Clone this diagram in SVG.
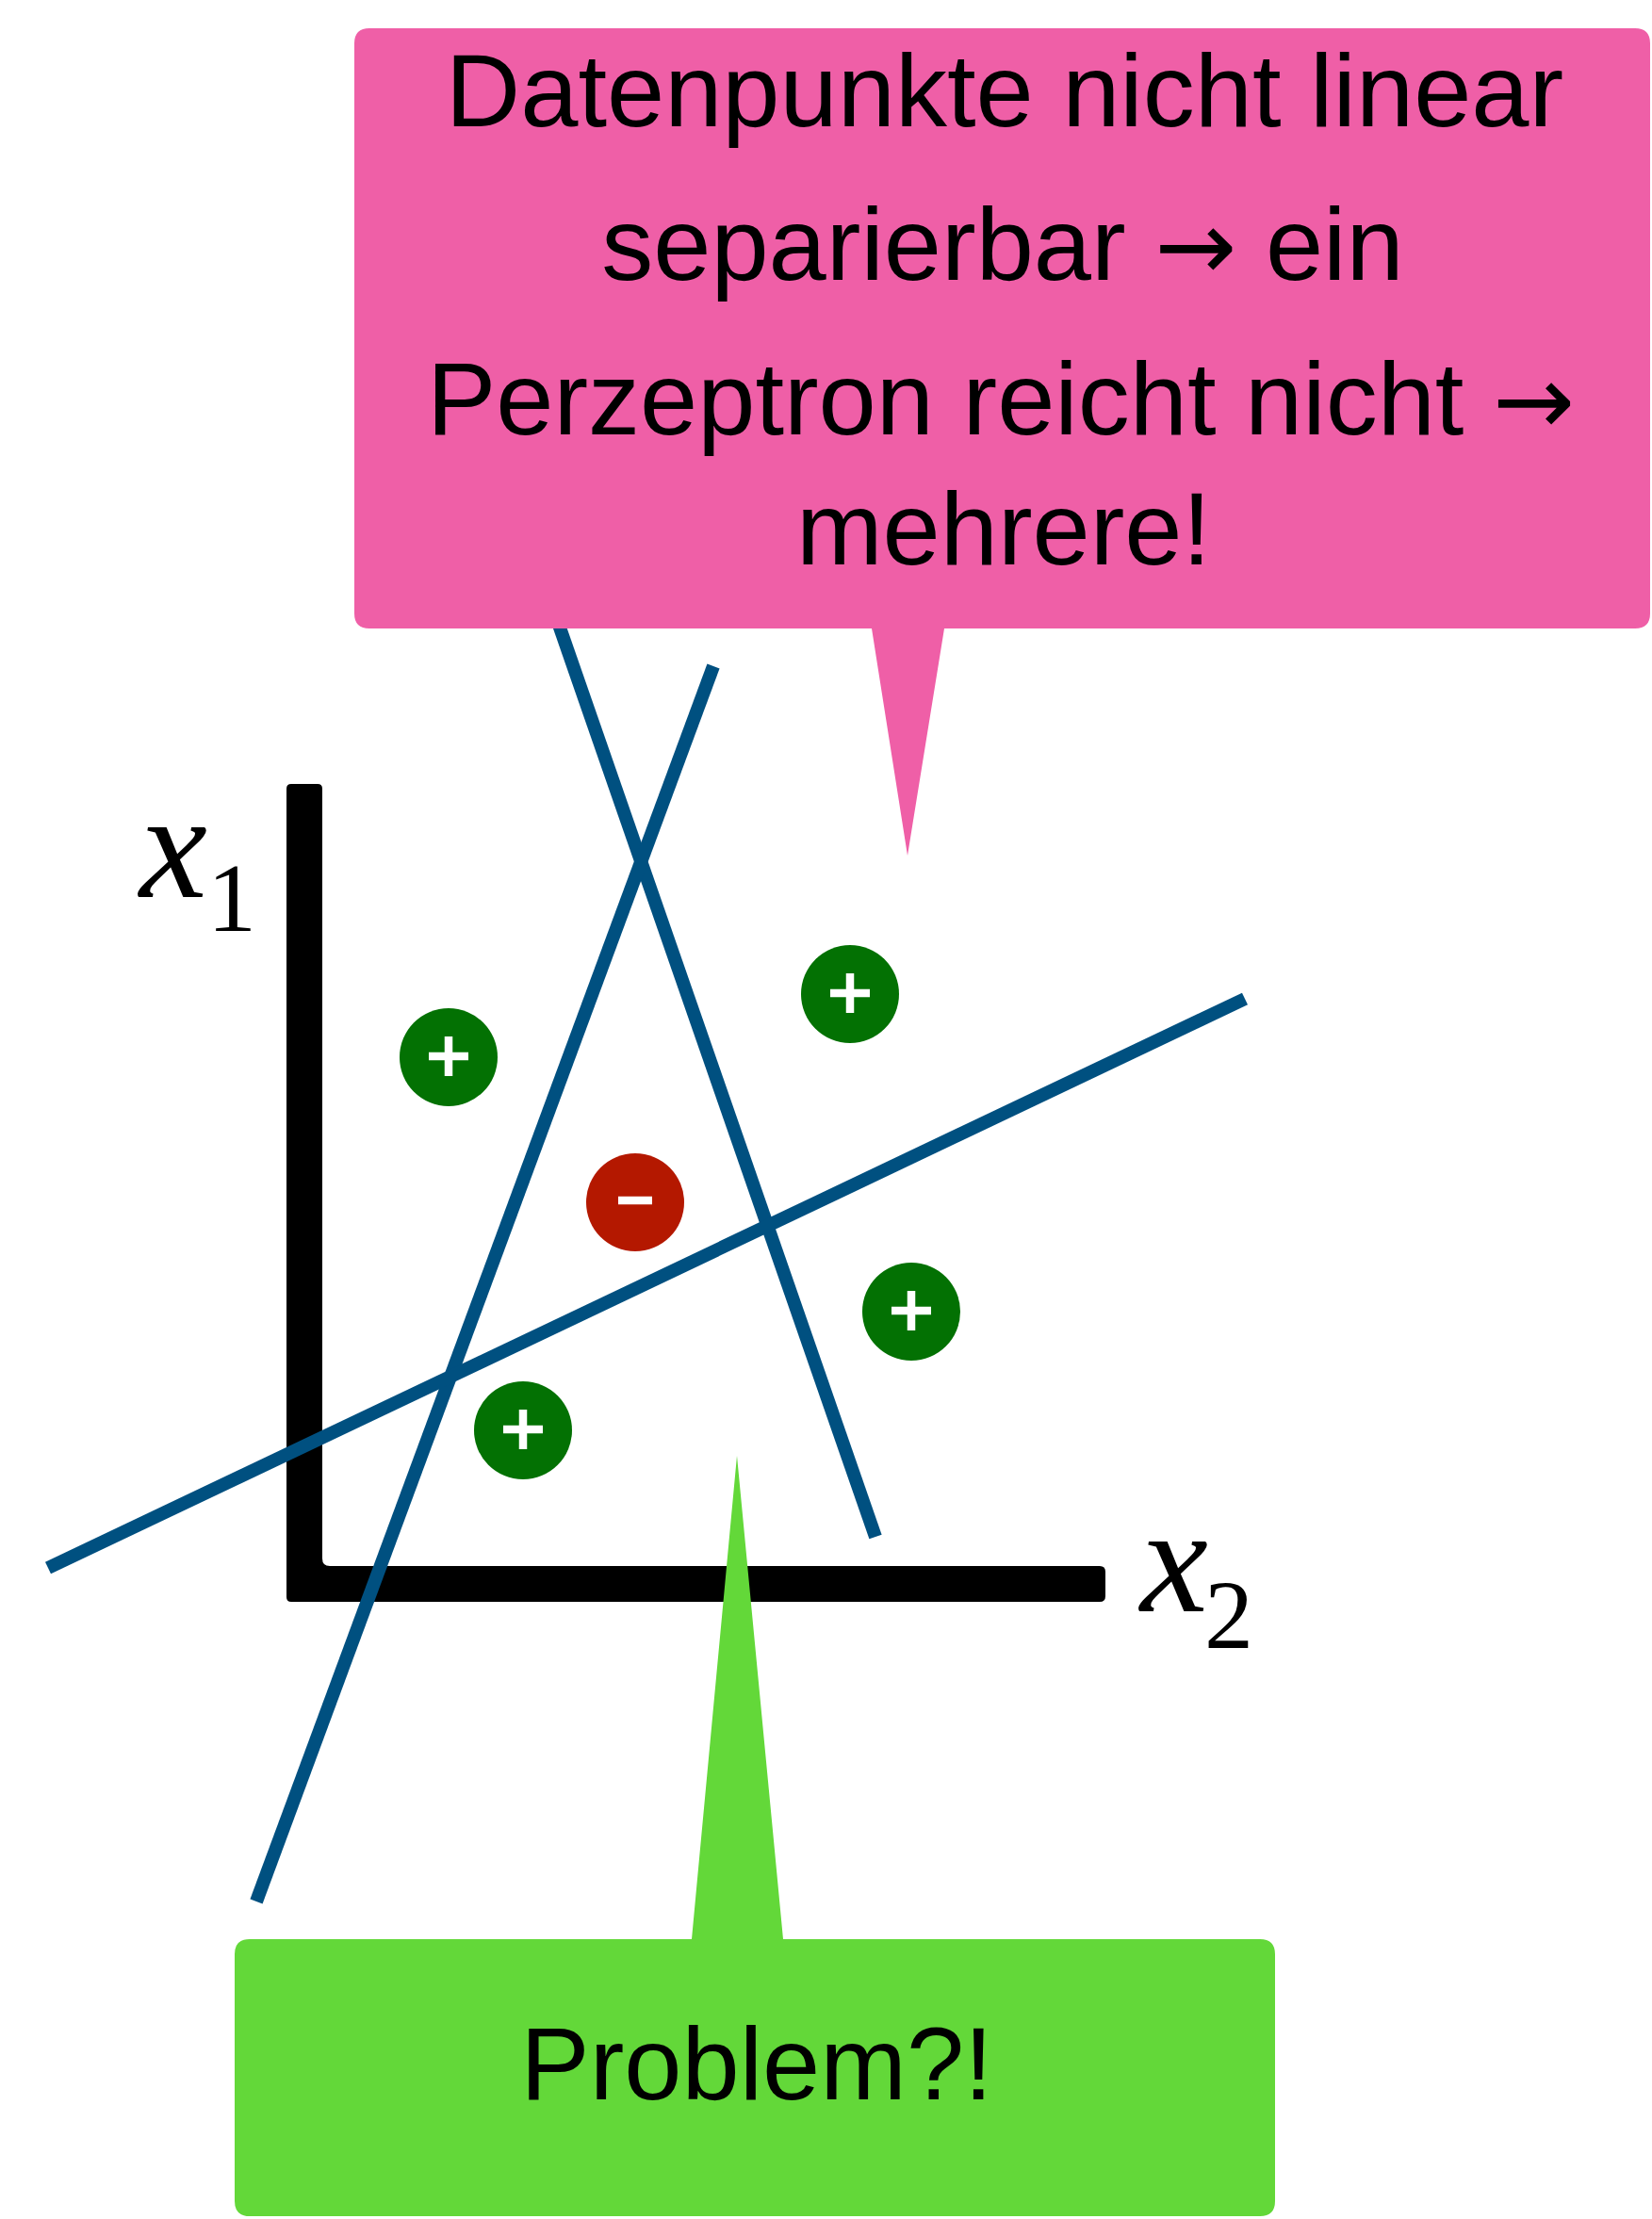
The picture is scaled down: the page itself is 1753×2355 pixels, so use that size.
<svg xmlns="http://www.w3.org/2000/svg" width="1753" height="2355" viewBox="0 0 1753 2355">
<style>
.sep{stroke:#005080;stroke-width:14;fill:none;stroke-linecap:butt}
.pos{fill:#037103}
.neg{fill:#b41800}
.sign{stroke:#ffffff;stroke-width:8.5;fill:none}
.call{font-family:"Liberation Sans",Arial,sans-serif;font-size:110px;fill:#000;text-anchor:middle}
.arr{font-family:"DejaVu Sans",sans-serif;font-size:104px}
.var{font-family:"Liberation Serif","Times New Roman",serif;font-style:italic;font-size:162px;fill:#000}
.sub{font-family:"Liberation Serif","Times New Roman",serif;font-size:104px;fill:#000}
</style>
<rect width="1753" height="2355" fill="#ffffff"/>
<g id="axes">
<path d="M309,832 H337 Q342,832 342,837 V1654 Q342,1662 350,1662 H1167 Q1173,1662 1173,1668 V1694 Q1173,1700 1167,1700 H309 Q304,1700 304,1695 V837 Q304,832 309,832 Z" fill="#000000"/>
<text id="label-x1" class="var" x="148" y="952">x</text>
<text class="sub" x="220" y="988">1</text>
<text id="label-x2" class="var" x="1210" y="1710">x</text>
<text class="sub" x="1278" y="1749">2</text>
</g>
<g id="connectors">
<line class="sep" x1="585" y1="640" x2="929" y2="1631"/>
<line class="sep" x1="272" y1="2018" x2="757" y2="707"/>
<line class="sep" x1="51" y1="1664" x2="1321" y2="1060"/>
</g>
<g id="point-pos-1"><circle class="pos" cx="902" cy="1055" r="52"/><path class="sign" d="M881,1054 H923 M902,1033 V1075"/></g>
<g id="point-pos-2"><circle class="pos" cx="967" cy="1392" r="52"/><path class="sign" d="M946,1391 H988 M967,1370 V1412"/></g>
<g id="point-pos-3"><circle class="pos" cx="476" cy="1122" r="52"/><path class="sign" d="M455,1121 H497 M476,1100 V1142"/></g>
<g id="point-pos-4"><circle class="pos" cx="555" cy="1518" r="52"/><path class="sign" d="M534,1517 H576 M555,1496 V1538"/></g>
<g id="point-neg"><circle class="neg" cx="674" cy="1276" r="52"/><path class="sign" d="M656,1274 H692"/></g>
<g id="callout-top">
<path d="M392,30 H1735 Q1751,30 1751,46 V651 Q1751,667 1735,667 H1002 L963,908 L925,667 H392 Q376,667 376,651 V46 Q376,30 392,30 Z" fill="#ef5fa7"/>
<text class="call" x="1066" y="134">Datenpunkte nicht linear</text>
<text class="call" x="1064" y="297">separierbar <tspan class="arr">→</tspan> ein</text>
<text class="call" x="1062" y="461">Perzeptron reicht nicht <tspan class="arr">→</tspan></text>
<text class="call" x="1065" y="599">mehrere!</text>
</g>
<g id="callout-bottom">
<path d="M265,2058 H734 L782,1545 L831,2058 H1337 Q1353,2058 1353,2074 V2336 Q1353,2352 1337,2352 H265 Q249,2352 249,2336 V2074 Q249,2058 265,2058 Z" fill="#63d839"/>
<text class="call" x="803" y="2228">Problem?!</text>
</g>
</svg>
